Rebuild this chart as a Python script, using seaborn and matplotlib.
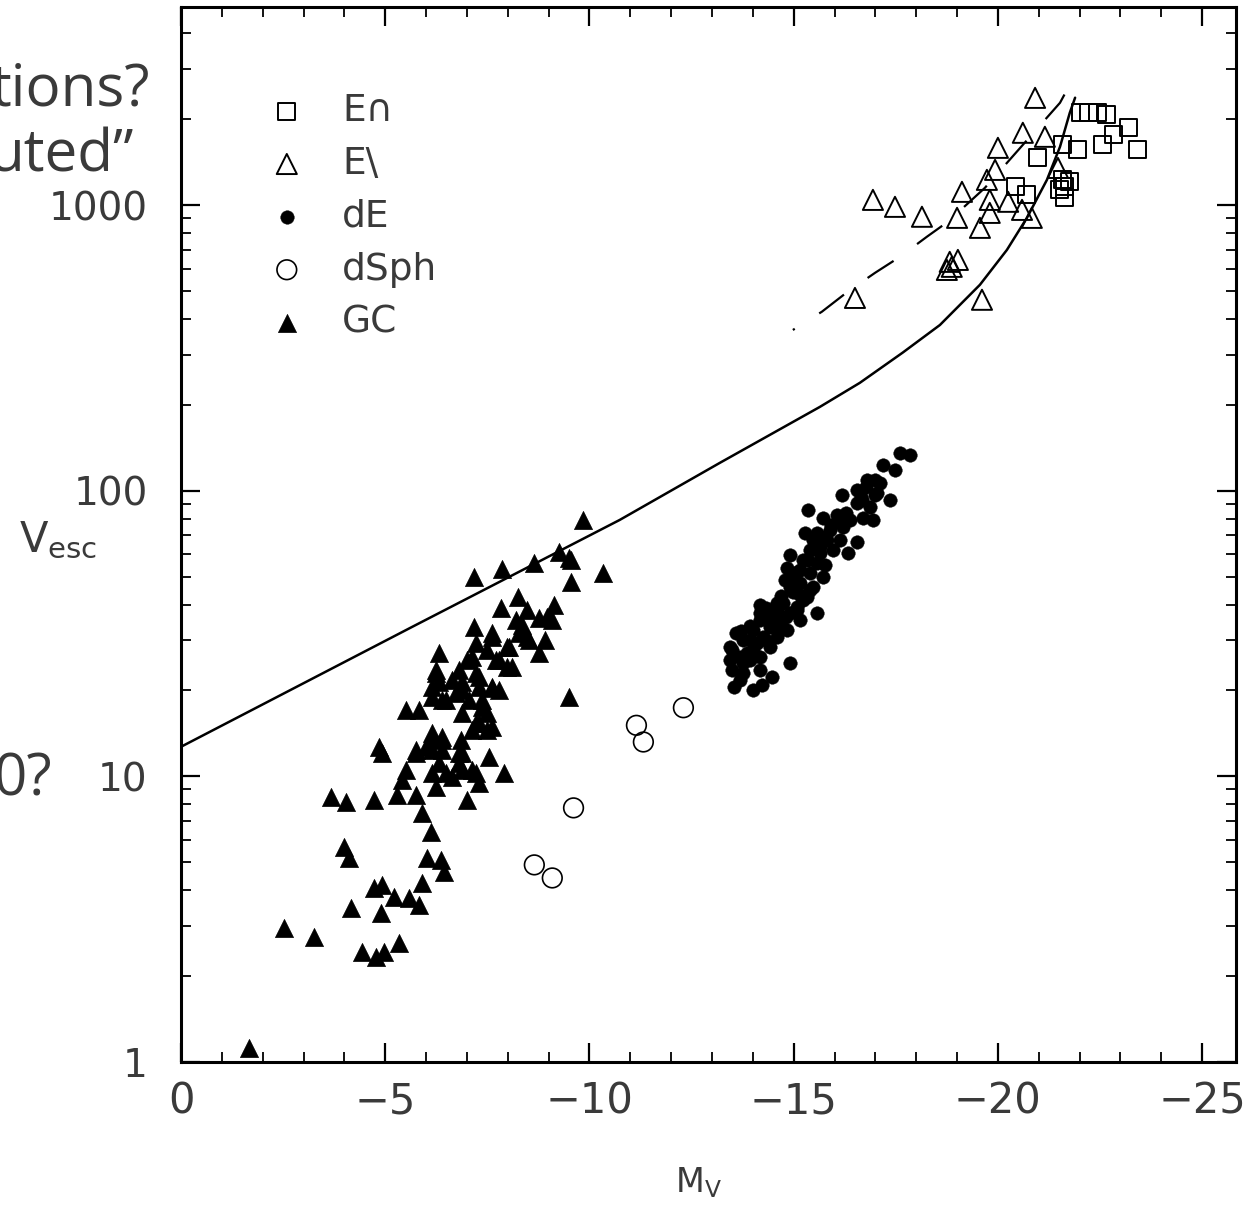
import matplotlib
matplotlib.use("Agg")
import matplotlib.pyplot as plt
import seaborn as sns
from matplotlib.ticker import MultipleLocator, LogLocator, FuncFormatter, NullFormatter

# ---------------- data ----------------
gc_mv = [-9.83, -7.18, -7.87, -8.65, -9.26, -9.56, -10.32, -9.56, -8.24, -7.84, -9.14, -8.95, -8.46,
         -7.18, -7.62, -8.48, -8.04, -8.77, -6.32, -6.99, -7.79, -7.30, -6.25, -8.11, -6.64, -7.62,
         -6.15, -6.89, -9.51, -5.51, -5.83, -6.40, -6.89, -7.38, -7.30, -7.62, -7.13, -6.15, -6.40,
         -6.86, -4.85, -4.93, -5.76, -6.00, -6.40, -6.89, -7.55, -5.51, -6.15, -6.50, -6.89, -7.23,
         -7.92, -5.42, -6.25, -7.30, -3.68, -4.04, -4.73, -5.29, -5.76, -6.99, -5.91, -6.13, -4.00,
         -4.12, -6.03, -6.37, -6.45, -5.91, -4.73, -4.93, -5.22, -5.59, -5.83, -4.17, -4.90, -2.52,
         -3.26, -4.44, -4.78, -4.98, -5.34, -1.67, -9.51, -9.09, -8.77, -7.62, -8.28, -8.53, -7.23,
         -7.97, -7.13, -7.72, -6.25, -6.81, -7.23, -7.97, -6.32, -6.89, -7.30, -7.62, -6.15, -6.50,
         -7.38, -7.48, -7.23, -7.48, -6.15, -6.40, -5.76, -6.15, -6.81, -6.32, -6.81, -7.13, -6.64,
         -8.21, -7.48, -6.74, -7.06, -7.79, -8.36, -8.90]
gc_vesc = [79.1, 50.0, 53.3, 56.0, 61.1, 57.3, 51.6, 48.0, 42.6, 38.9, 39.9, 36.2, 38.3,
           33.4, 30.8, 30.8, 28.4, 27.1, 27.1, 25.6, 25.6, 22.3, 23.0, 24.2, 21.8, 20.6,
           20.6, 20.1, 19.0, 17.1, 17.1, 18.5, 16.7, 17.5, 15.4, 14.9, 14.5, 13.7, 13.7,
           13.4, 12.7, 12.1, 12.1, 12.7, 12.4, 12.1, 11.7, 10.5, 10.3, 10.3, 10.5, 10.3,
           10.3, 9.72, 9.18, 9.48, 8.47, 8.14, 8.28, 8.61, 8.61, 8.28, 7.45, 6.39, 5.66,
           5.18, 5.18, 5.10, 4.63, 4.24, 4.06, 4.17, 3.78, 3.75, 3.55, 3.46, 3.33, 2.95,
           2.74, 2.43, 2.33, 2.43, 2.61, 1.12, 58.3, 35.3, 35.9, 31.8, 31.8, 30.1, 29.4,
           28.4, 26.2, 25.6, 23.6, 23.6, 23.0, 24.2, 21.4, 21.4, 20.6, 20.4, 19.0, 18.5,
           18.5, 16.7, 15.4, 14.5, 14.2, 13.4, 12.4, 12.4, 12.1, 11.1, 11.1, 10.5, 9.96,
           35.3, 27.7, 19.6, 18.5, 20.1, 33.9, 30.1]

de_mv = [-17.60, -17.84, -17.18, -16.79, -16.54, -17.11, -17.35, -16.18, -16.86, -16.69, -16.94,
         -15.34, -15.71, -16.05, -16.37, -15.56, -15.88, -16.20, -15.47, -15.81, -16.54, -16.32,
         -15.96, -15.64, -15.39, -14.90, -15.22, -15.56, -14.83, -15.07, -15.39, -15.71, -15.15,
         -15.47, -14.98, -15.32, -14.73, -15.07, -14.58, -14.90, -14.41, -15.56, -14.17, -14.66,
         -14.41, -14.83, -14.00, -14.24, -14.58, -13.75, -14.09, -14.41, -13.60, -13.50, -13.85,
         -14.17, -13.43, -13.75, -14.90, -13.50, -14.17, -13.75, -14.46, -13.55, -14.00, -14.22,
         -13.68, -15.15, -14.78, -15.76, -16.13, -16.67, -16.99, -17.48, -14.17, -13.92, -15.15,
         -15.27,
         -13.72, -13.92, -14.17, -14.33, -14.58, -14.70, -14.90, -15.02, -15.15, -15.35, -15.64,
         -15.76, -15.92, -16.13, -16.29, -16.54, -16.66, -16.78, -16.99, -17.03, -13.43, -13.68,
         -13.92, -14.00, -14.33, -14.58, -14.82, -15.07, -15.23, -15.39]
de_vesc = [135.8, 133.7, 123.3, 109.3, 100.9, 106.7, 93.0, 96.8, 87.9, 80.4, 79.1,
           85.8, 80.4, 82.4, 79.1, 71.3, 73.0, 74.8, 67.3, 67.3, 66.3, 60.7,
           62.1, 60.7, 62.1, 59.7, 57.3, 56.0, 53.7, 52.0, 51.6, 50.0, 47.6,
           46.1, 44.3, 42.6, 40.5, 39.2, 38.3, 37.4, 36.2, 37.4, 35.3, 34.8,
           33.4, 32.6, 32.6, 30.8, 30.8, 30.1, 29.4, 28.4, 31.8, 27.7, 27.1,
           26.2, 25.6, 25.0, 25.0, 23.6, 23.6, 23.0, 22.3, 20.6, 20.1, 20.9,
           21.8, 43.2, 48.8, 55.1, 67.3, 93.0, 96.8, 118.5, 39.9, 30.1, 35.3,
           71.3,
           32.2, 33.5, 37.3, 38.8, 40.4, 42.7, 46.2, 50.1, 52.9, 57.3, 63.8,
           69.2, 76.0, 79.1, 83.5, 90.5, 95.5, 103.5, 109.3, 98.2, 28.5, 26.3,
           25.6, 27.7, 30.1, 33.5, 36.3, 38.3, 41.5, 45.0]

dsph_mv = [-12.30, -11.15, -11.32, -9.61, -9.09, -8.65]
dsph_vesc = [17.4, 15.1, 13.2, 7.76, 4.41, 4.90]

etri_mv = [-20.91, -20.61, -21.15, -20.00, -19.93, -19.73, -19.12, -16.94, -17.48, -18.14, -19.00,
           -19.80, -19.80, -20.25, -19.56, -20.59, -20.83, -21.47, -18.82, -19.02, -18.75, -18.87,
           -16.50, -19.61]
etri_vesc = [2379, 1795, 1738, 1590, 1331, 1228, 1115, 1045, 988, 912, 904,
             1045, 941, 1029, 834, 964, 904, 1352, 634, 644, 594, 609,
             474, 467]

esq_mv = [-22.01, -22.21, -22.45, -22.67, -23.19, -22.82, -22.57, -23.41, -21.94, -21.59, -20.96,
          -20.42, -20.71, -21.57, -21.64, -21.52, -21.64, -21.76]
esq_vesc = [2109, 2109, 2109, 2075, 1868, 1766, 1629, 1564, 1564, 1629, 1466,
            1161, 1088, 1228, 1161, 1133, 1062, 1208]

curve_mv = [0.0, -5.66, -10.74, -13.19, -15.64, -16.62, -17.67, -18.58, -19.56, -20.22, -20.71,
            -21.20, -21.52, -21.76, -21.89]
curve_vesc = [12.7, 33.4, 79.1, 125.3, 196.8, 239, 305, 381, 527, 698, 904,
              1228, 1603, 2109, 2382]

dash_mv = [-14.98, -15.69, -16.32, -16.99, -17.60, -18.26, -18.77, -19.68, -21.52, -21.89]
dash_vesc = [366, 424, 498, 580, 660, 776, 875, 1151, 2286, 2864]

legend_labels = ["E\u2229", "E\\", "dE", "dSph", "GC"]
x_ticks = [0, -5, -10, -15, -20, -25]
y_ticks = [1, 10, 100, 1000]

# ---------------- figure ----------------
sns.set_style("ticks")
plt.rcParams["font.family"] = ["DejaVu Sans"]

fig = plt.figure(figsize=(12.44, 12.05), dpi=100)
ax = fig.add_axes([0.1455, 0.1187, 0.8481, 0.8755])

sns.lineplot(x=curve_mv, y=curve_vesc, sort=False, estimator=None, color="black",
             linewidth=1.8, ax=ax, legend=False, zorder=2)
sns.lineplot(x=dash_mv, y=dash_vesc, sort=False, estimator=None, color="black",
             linewidth=1.6, linestyle=(13, (14, 13)), ax=ax, legend=False, zorder=2)

sns.scatterplot(x=esq_mv, y=esq_vesc, marker="s", s=150, facecolor="none",
                edgecolor="black", linewidth=1.4, ax=ax, legend=False, zorder=3)
sns.scatterplot(x=etri_mv, y=etri_vesc, marker="^", s=210, facecolor="none",
                edgecolor="black", linewidth=1.4, ax=ax, legend=False, zorder=3)
sns.scatterplot(x=de_mv, y=de_vesc, marker="o", s=95, color="black",
                edgecolor="black", linewidth=0.3, ax=ax, legend=False, zorder=3)
sns.scatterplot(x=dsph_mv, y=dsph_vesc, marker="o", s=200, facecolor="none",
                edgecolor="black", linewidth=1.2, ax=ax, legend=False, zorder=3)
sns.scatterplot(x=gc_mv, y=gc_vesc, marker="^", s=170, color="black",
                edgecolor="black", linewidth=0.5, ax=ax, legend=False, zorder=3)

handles = ax.collections[:5]
ax.legend(handles=handles, labels=legend_labels, loc="upper left",
          bbox_to_anchor=(0.0825, 0.9185), frameon=False, borderpad=0, borderaxespad=0,
          handlelength=1.0, handletextpad=0.97, labelspacing=0.45, fontsize=27,
          scatterpoints=1, labelcolor="#3a3a3a")

ax.set_yscale("log")
ax.set_xlim(0, -25.83)
ax.set_ylim(1, 4950)
ax.set_xticks(x_ticks)
ax.xaxis.set_minor_locator(MultipleLocator(1))
ax.set_yticks(y_ticks)
ax.yaxis.set_major_formatter(FuncFormatter(lambda v, p: f"{v:g}"))
ax.yaxis.set_minor_locator(LogLocator(base=10, subs=range(2, 10), numticks=20))
ax.yaxis.set_minor_formatter(NullFormatter())

ax.tick_params(which="both", direction="in", top=True, right=True, colors="black",
               labelcolor="#3a3a3a")
ax.tick_params(which="major", length=14, width=1.6)
ax.tick_params(which="minor", length=7, width=1.3)
ax.tick_params(axis="y", which="major", pad=24, labelsize=28)
ax.tick_params(axis="x", which="major", pad=13, labelsize=30)
for sp in ax.spines.values():
    sp.set_linewidth(2.2)
    sp.set_color("black")

ax.set_xlabel(r"$\mathregular{M_V}$", fontsize=24, color="#3a3a3a", va="top")
ax.xaxis.set_label_coords(0.49, -0.0976)
ax.set_ylabel(r"$\mathregular{V_{esc}}$", fontsize=30, color="#3a3a3a", rotation=0,
              ha="center", va="center")
ax.yaxis.set_label_coords(-0.1166, 0.4948)

# fragments of slide text cut off at the left edge
frag_kw = dict(ha="right", va="baseline", fontsize=42, color="#3a3a3a",
               family=["Open Sans", "DejaVu Sans"])
fig.text(150 / 1244, 1 - 105 / 1205, "tions?", **frag_kw)
fig.text(134 / 1244, 1 - 172 / 1205, "uted\u201d", **frag_kw)
fig.text(52 / 1244, 1 - 795 / 1205, "0?", **frag_kw)

fig.savefig("out.png", dpi=100, facecolor="white")
